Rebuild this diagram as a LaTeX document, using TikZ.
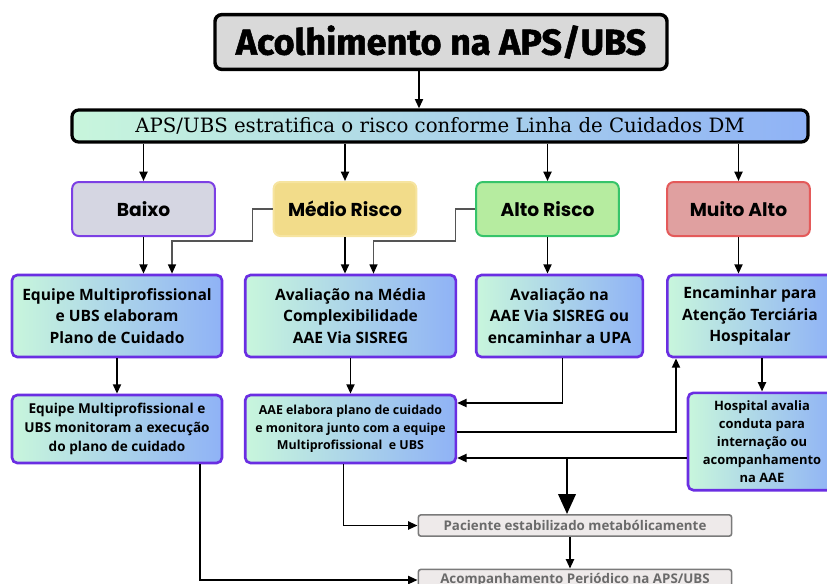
\documentclass[tikz,border=0pt]{standalone}
\usepackage{fontspec}
\setmainfont{Open Sans}
\newfontfamily\titlefont[BoldFeatures={FakeBold=1.5}]{Fira Sans}
\newfontfamily\riskfont{Poppins}
\newfontfamily\slabfont{DejaVu Serif}
\usepackage{tikz}
\usetikzlibrary{arrows.meta,positioning,calc}
\definecolor{titlegray}{RGB}{217,217,217}
\definecolor{gradgreen}{RGB}{200,246,220}
\definecolor{gradblue}{RGB}{143,178,246}
\definecolor{boxpurple}{RGB}{106,46,226}
\definecolor{baixofill}{RGB}{213,214,226}
\definecolor{baixodraw}{RGB}{124,64,228}
\definecolor{mediofill}{RGB}{242,220,138}
\definecolor{mediodraw}{RGB}{246,228,160}
\definecolor{altofill}{RGB}{182,236,160}
\definecolor{altodraw}{RGB}{54,196,106}
\definecolor{muitofill}{RGB}{224,160,160}
\definecolor{muitodraw}{RGB}{228,90,90}
\definecolor{pacfill}{RGB}{238,234,234}
\definecolor{pacdraw}{RGB}{122,122,122}
\definecolor{pactext}{RGB}{106,106,106}
\definecolor{elbowgray}{RGB}{85,85,85}

\begin{document}
\begin{tikzpicture}[
    x=0.75pt, y=-0.75pt,
    titlebox/.style={rectangle, draw=black, line width=2.6pt, fill=titlegray, rounded corners=5pt, minimum width=339pt, minimum height=41pt, font=\titlefont\bfseries\fontsize{27}{30}\selectfont},
    barbox/.style={rectangle, draw=black, line width=2.4pt, left color=gradgreen, right color=gradblue, rounded corners=5pt, minimum width=552pt, minimum height=24pt, inner sep=1pt, font=\slabfont\fontsize{14.8}{16}\selectfont},
    riskbox/.style={rectangle, line width=1.5pt, rounded corners=5pt, minimum width=107pt, minimum height=40.5pt, font=\riskfont\bfseries\fontsize{14}{16}\selectfont},
    gradbox/.style={rectangle, draw=boxpurple, line width=2pt, left color=gradgreen, right color=gradblue, rounded corners=4pt, align=center, inner sep=2pt},
    pacbox/.style={rectangle, draw=pacdraw, fill=pacfill, line width=1.2pt, rounded corners=2pt, minimum width=235pt, minimum height=16pt, inner sep=1pt, text=pactext, font=\bfseries\fontsize{10}{11}\selectfont},
    arrow/.style={-{Triangle[length=7pt,width=6pt]}, line width=1.4pt},
    elbow/.style={-{Triangle[length=7pt,width=6pt,color=black]}, line width=1pt, draw=elbowgray},
    bigarrow/.style={-{Triangle[length=15pt,width=13pt]}, line width=2pt}
]
    \useasboundingbox (0,0) rectangle (827,583);

    % topo
    \node[titlebox] (title) at (441,42) {Acolhimento na APS/UBS};
    \node[barbox] (bar) at (440,126) {APS/UBS estratifica o risco conforme Linha de Cuidados DM};

    % estratos de risco
    \node[riskbox, fill=baixofill, draw=baixodraw] (baixo) at (143.5,209) {Baixo};
    \node[riskbox, fill=mediofill, draw=mediodraw] (medio) at (345,209) {Médio Risco};
    \node[riskbox, fill=altofill, draw=altodraw] (alto) at (547.5,209) {Alto Risco};
    \node[riskbox, fill=muitofill, draw=muitodraw] (muito) at (738.5,209) {Muito Alto};

    % segunda linha
    \node[gradbox, minimum width=157.5pt, minimum height=61.5pt, font=\bfseries\fontsize{11.7}{16}\selectfont] (equipe) at (117,316) {Equipe Multiprofissional\\e UBS elaboram\\Plano de Cuidado};
    \node[gradbox, minimum width=158pt, minimum height=61.5pt, font=\bfseries\fontsize{11.7}{16}\selectfont] (media) at (350.5,316) {Avaliação na Média\\Complexibilidade\\AAE Via SISREG};
    \node[gradbox, minimum width=125pt, minimum height=61.5pt, font=\bfseries\fontsize{11.7}{16}\selectfont] (aae) at (559.5,316) {Avaliação na\\AAE Via SISREG ou\\encaminhar a UPA};
    \node[gradbox, minimum width=124pt, minimum height=61.5pt, font=\bfseries\fontsize{11.7}{16}\selectfont] (terciaria) at (750,316) {Encaminhar para\\Atenção Terciária\\Hospitalar};

    % terceira linha
    \node[gradbox, minimum width=157.5pt, minimum height=51pt, font=\bfseries\fontsize{10.2}{14}\selectfont] (monitoram) at (117,429) {Equipe Multiprofissional e\\UBS monitoram a execução\\do plano de cuidado};
    \node[gradbox, minimum width=158pt, minimum height=51pt, font=\bfseries\fontsize{9.3}{13}\selectfont] (elabora) at (350.5,429) {AAE elabora plano de cuidado\\e monitora junto com a equipe\\Multiprofissional\ \ e UBS};
    \node[gradbox, minimum width=111pt, minimum height=73pt, font=\bfseries\fontsize{9.7}{13.5}\selectfont] (hospital) at (762,441.5) {Hospital avalia\\conduta para\\internação ou\\acompanhamento\\na AAE};

    % final
    \node[pacbox] (paciente) at (575,525.5) {Paciente estabilizado metabólicamente};
    \node[pacbox] (periodico) at (575,580) {Acompanhamento Periódico na APS/UBS};

    % conexoes
    \coordinate (t) at ($(title.south)+(-22,0)$);
    \draw[arrow] (t) -- (t |- bar.north);
    \foreach \r in {baixo,medio,alto,muito}
        \draw[arrow] (bar.south -| \r) -- (\r.north);

    \draw[arrow] (baixo.south) -- (baixo.south |- equipe.north);
    \draw[elbow] (medio.west) -- ++(-20,0) -- ++(0,32) -| ($(equipe.north)+(55,0)$);
    \draw[arrow] (medio.south) -- (medio.south |- media.north);
    \draw[elbow] (alto.west) -- ++(-20,0) -- ++(0,32) -| ($(media.north)+(23,0)$);
    \draw[arrow] (alto.south) -- (alto.south |- aae.north);
    \draw[arrow] (muito.south) -- (muito.south |- terciaria.north);

    \draw[arrow] (equipe.south) -- (monitoram.north);
    \draw[arrow] (media.south) -- (elabora.north);
    \draw[arrow] ($(aae.south)+(3,0)$) |- ($(elabora.east)+(0,-26)$);
    \draw[arrow] ($(elabora.east)+(0,3)$) -| ($(terciaria.south)+(-74,0)$);
    \draw[arrow] (hospital.north |- terciaria.south) -- (hospital.north);

    \coordinate (junc) at ($(hospital.west)+(0,16.5)$);
    \draw[arrow] (junc) -- (junc -| elabora.east);
    \coordinate (split) at ($(junc -| paciente.north)+(-8,0)$);
    \draw[bigarrow] (split) -- (split |- paciente.north);

    \draw[arrow] ($(elabora.south)+(-7,0)$) |- (paciente.west);
    \draw[arrow] ($(monitoram.south)+(83,0)$) |- (periodico.west);
    \draw[arrow] ($(paciente.south)+(-5,0)$) -- ($(periodico.north)+(-5,0)$);
\end{tikzpicture}
\end{document}
